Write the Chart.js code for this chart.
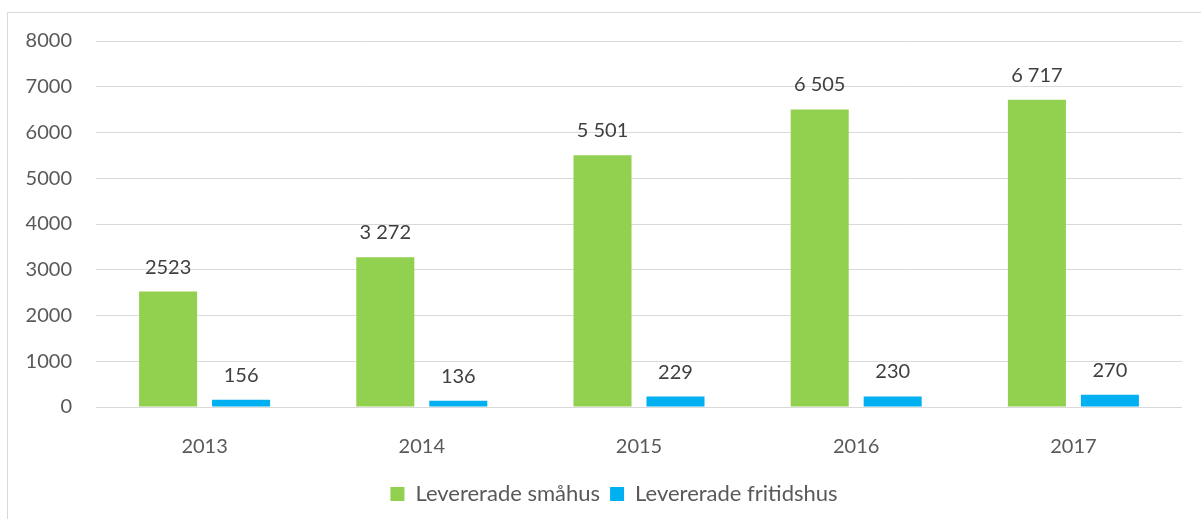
<!DOCTYPE html>
<html>
<head>
<meta charset="utf-8">
<script src="https://cdn.jsdelivr.net/npm/chart.js"></script>
<style>
  html, body { margin: 0; padding: 0; background: #fff; }
  #wrap { position: relative; width: 1201px; height: 519px; overflow: hidden; }
  #frame { position: absolute; left: 7px; top: 12px; width: 1300px; height: 600px; border: 1px solid #d9d9d9; box-sizing: border-box; }
  #myChart { position: absolute; left: 0; top: 0; }
</style>
</head>
<body>
<div id="wrap">
  <div id="frame"></div>
  <canvas id="myChart" width="1201" height="519"></canvas>
</div>
<script>
const years = ["2013", "2014", "2015", "2016", "2017"];
const smahus = [2523, 3272, 5501, 6505, 6717];
const fritidshus = [156, 136, 229, 230, 270];
const smahusLabels = ["2523", "3 272", "5 501", "6 505", "6 717"];
const fritidshusLabels = ["156", "136", "229", "230", "270"];

const FONT = "Lato";

// draws the value above each bar
const barValueLabels = {
  id: "barValueLabels",
  afterLayout(chart) {
    // legend sits a bit right of the canvas center in the original
    chart.legend.left += 23;
    chart.legend.right += 23;
  },
  afterDatasetsDraw(chart) {
    const ctx = chart.ctx;
    ctx.save();
    ctx.font = "20px " + FONT;
    ctx.fillStyle = "#404040";
    ctx.textAlign = "center";
    ctx.textBaseline = "alphabetic";
    chart.data.datasets.forEach((ds, i) => {
      chart.getDatasetMeta(i).data.forEach((bar, j) => {
        ctx.fillText(ds.valueLabels[j], bar.x, bar.y - 18);
      });
    });
    ctx.restore();
  }
};

new Chart(document.getElementById("myChart"), {
  type: "bar",
  data: {
    labels: years,
    datasets: [
      {
        label: "Levererade småhus",
        data: smahus,
        valueLabels: smahusLabels,
        backgroundColor: "#92d050",
        categoryPercentage: 0.672,
        barPercentage: 0.795,
      },
      {
        label: "Levererade fritidshus",
        data: fritidshus,
        valueLabels: fritidshusLabels,
        backgroundColor: "#00b0f0",
        categoryPercentage: 0.672,
        barPercentage: 0.795,
      },
    ],
  },
  options: {
    responsive: false,
    animation: false,
    layout: { padding: { top: 41, right: 19, bottom: 4, left: 0 } },
    plugins: {
      tooltip: { enabled: false },
      legend: {
        position: "bottom",
        labels: {
          boxWidth: 14,
          boxHeight: 14,
          padding: 10,
          color: "#595959",
          font: { family: FONT, size: 22 },
        },
      },
    },
    scales: {
      x: {
        grid: { display: false },
        border: { display: false },
        ticks: { color: "#595959", padding: 20, font: { family: FONT, size: 20 } },
        afterFit(scale) { scale.height = 66; },
      },
      y: {
        min: 0,
        max: 8000,
        grid: { color: "#d9d9d9", lineWidth: 1, drawTicks: false },
        border: { display: false },
        ticks: {
          stepSize: 1000,
          color: "#595959",
          padding: 24,
          font: { family: FONT, size: 20 },
          callback: (v) => String(v),
        },
        afterFit(scale) { scale.width = 96; },
      },
    },
  },
  plugins: [barValueLabels],
});
</script>
</body>
</html>
